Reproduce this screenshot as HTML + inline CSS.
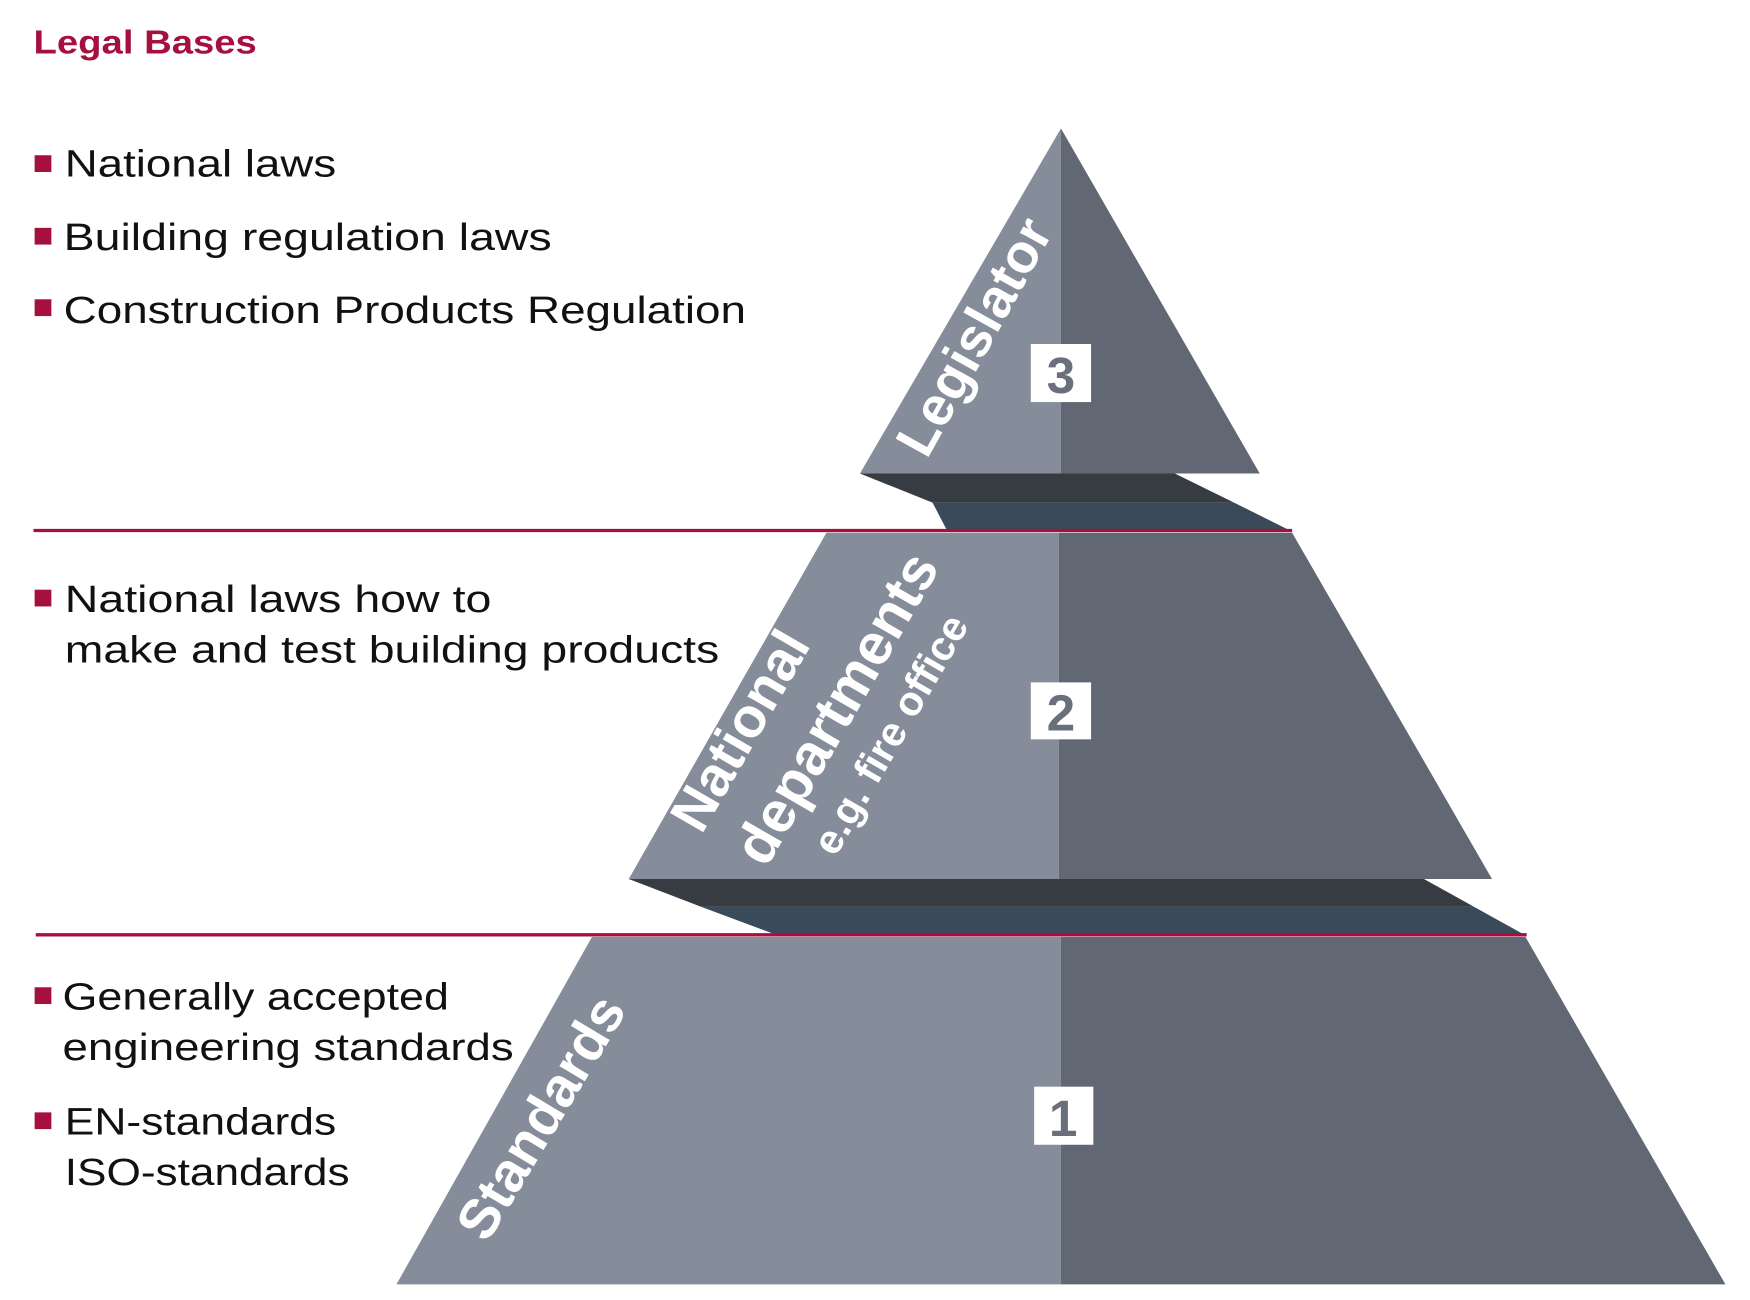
<!DOCTYPE html>
<html><head><meta charset="utf-8"><style>
html,body{margin:0;padding:0;background:#fff;}
svg{display:block;}
text{font-family:"Liberation Sans",Arial,sans-serif;}
</style></head><body>
<svg width="1750" height="1300" viewBox="0 0 1567 1164" preserveAspectRatio="none" xmlns="http://www.w3.org/2000/svg">
<rect width="1567" height="1164" fill="#fff"/>
<polygon points="950,115 770,424 950,424" fill="#858d9b"/>
<polygon points="950,115 1128,424 950,424" fill="#616873"/>
<polygon points="770,424 1052,424 1105,450 835,450" fill="#373b42"/>
<polygon points="835,450 1105,450 1155,475 848,475" fill="#3a4a5a"/>
<line x1="30" y1="475" x2="1157" y2="475" stroke="#a5103f" stroke-width="3"/>
<polygon points="740,477 948,477 948,787 563,787" fill="#858d9b"/>
<polygon points="948,477 1157,477 1336,787 948,787" fill="#616873"/>
<polygon points="563,787 1275,787 1320,812 628,812" fill="#373b42"/>
<polygon points="628,812 1320,812 1365,837 695,837" fill="#3a4a5a"/>
<line x1="32" y1="837" x2="1367" y2="837" stroke="#a5103f" stroke-width="3"/>
<polygon points="530,839 950,839 950,1150 355,1150" fill="#858d9b"/>
<polygon points="950,839 1366,839 1545,1150 950,1150" fill="#616873"/>

<rect x="923" y="308" width="54" height="52" fill="#fff"/>
<text x="950" y="352" text-anchor="middle" font-size="46" font-weight="bold" fill="#6a707b">3</text>
<rect x="923" y="611" width="54" height="51" fill="#fff"/>
<text x="950" y="654" text-anchor="middle" font-size="46" font-weight="bold" fill="#6a707b">2</text>
<rect x="926" y="973" width="53" height="52" fill="#fff"/>
<text x="952" y="1017" text-anchor="middle" font-size="46" font-weight="bold" fill="#6a707b">1</text>

<text transform="translate(830,412) rotate(-61)" font-size="49" font-weight="bold" fill="#fff">Legislator</text>
<text transform="translate(628,748) rotate(-60)" font-size="50" font-weight="bold" fill="#fff">National</text>
<text transform="translate(686,778) rotate(-60)" font-size="52" font-weight="bold" fill="#fff">departments</text>
<text transform="translate(748,768) rotate(-60)" font-size="37" font-weight="bold" fill="#fff">e.g. fire office</text>
<text transform="translate(436,1114) rotate(-59)" font-size="50" font-weight="bold" fill="#fff">Standards</text>

<text x="30" y="48" font-size="30" font-weight="bold" fill="#a5103f" textLength="200" lengthAdjust="spacingAndGlyphs">Legal Bases</text>
<g fill="#a5103f">
<rect x="31" y="139" width="15" height="15"/>
<rect x="31" y="204" width="15" height="15"/>
<rect x="31" y="268" width="15" height="15"/>
<rect x="31" y="528" width="15" height="15"/>
<rect x="31" y="884" width="15" height="15"/>
<rect x="31" y="996" width="15" height="15"/>
</g>
<g font-size="34" fill="#111">
<text x="58" y="158" textLength="243" lengthAdjust="spacingAndGlyphs">National laws</text>
<text x="57" y="224" textLength="437" lengthAdjust="spacingAndGlyphs">Building regulation laws</text>
<text x="57" y="289" textLength="611" lengthAdjust="spacingAndGlyphs">Construction Products Regulation</text>
<text x="58" y="548" textLength="382" lengthAdjust="spacingAndGlyphs">National laws how to</text>
<text x="58" y="593" textLength="586" lengthAdjust="spacingAndGlyphs">make and test building products</text>
<text x="56" y="904" textLength="346" lengthAdjust="spacingAndGlyphs">Generally accepted</text>
<text x="56" y="949" textLength="404" lengthAdjust="spacingAndGlyphs">engineering standards</text>
<text x="58" y="1016" textLength="243" lengthAdjust="spacingAndGlyphs">EN-standards</text>
<text x="58" y="1061" textLength="255" lengthAdjust="spacingAndGlyphs">ISO-standards</text>
</g>
</svg>
</body></html>
